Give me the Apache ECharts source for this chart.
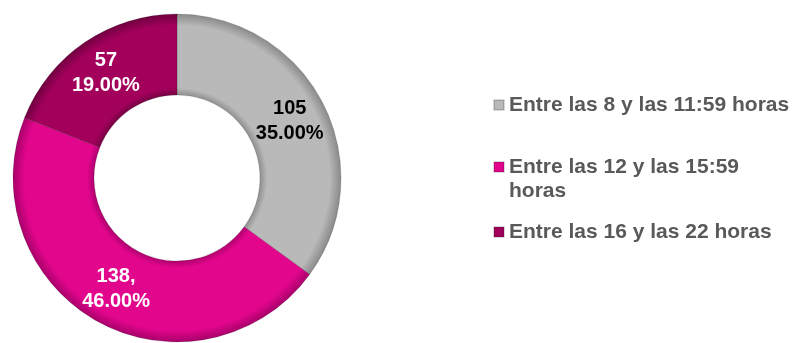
<!DOCTYPE html>
<html>
<head>
<meta charset="utf-8">
<script src="https://cdn.jsdelivr.net/npm/echarts@6/dist/echarts.min.js"></script>
<style>html,body{margin:0;padding:0;background:#fff}#c{width:798px;height:343px}</style>
</head>
<body>
<div id="c"></div>
<script>
var categories = ['Entre las 8 y las 11:59 horas', 'Entre las 12 y las 15:59 horas', 'Entre las 16 y las 22 horas'];
var values = [105, 138, 57];
var colors = ['#b9b9b9', '#e2068c', '#a2005b'];
var edgeColors = ['#8a8a8a', '#a8006a', '#700040'];
var labelColors = ['#000000', '#ffffff', '#ffffff'];
var labelSeparators = ['\n', ',\n', '\n'];

var chart = echarts.init(document.getElementById('c'));
var legendText = {
  color: '#595959', fontFamily: 'Liberation Sans, Arial, sans-serif',
  fontWeight: 'bold', fontSize: 21, lineHeight: 24
};
function mkLegend(idx, top, extra, formatter) {
  var ts = Object.assign({}, legendText, extra || {});
  var lg = {
    data: [{name: categories[idx], itemStyle: {color: colors[idx]}}],
    orient: 'vertical', left: 493, top: top,
    padding: 0, icon: 'rect', itemWidth: 10, itemHeight: 10, itemGap: 0,
    textStyle: ts
  };
  if (formatter) lg.formatter = formatter;
  return lg;
}
function grad(i) {
  return {
    type: 'radial', x: 177, y: 178, r: 164, global: true,
    colorStops: [
      {offset: 0.50, color: edgeColors[i]},
      {offset: 0.55, color: colors[i]},
      {offset: 0.93, color: colors[i]},
      {offset: 1.00, color: edgeColors[i]}
    ]
  };
}
chart.setOption({
  animation: false,
  legend: [
    mkLegend(0, 93),
    mkLegend(1, 131, {width: 285, overflow: 'break'}, function (n) { return '\n' + n; }),
    mkLegend(2, 220)
  ],
  series: [{
    type: 'pie',
    center: [177, 178],
    radius: [83, 164],
    startAngle: 90,
    clockwise: true,
    label: {
      position: 'inside',
      fontFamily: 'Liberation Sans, Arial, sans-serif',
      fontWeight: 'bold', fontSize: 20, lineHeight: 25,
      formatter: function (p) {
        return p.value + labelSeparators[p.dataIndex] + p.percent.toFixed(2) + '%';
      }
    },
    labelLine: {show: false},
    itemStyle: {borderColor: 'rgba(0,0,0,0.15)', borderWidth: 1},
    emphasis: {disabled: true},
    data: categories.map(function (n, i) {
      return {
        name: n, value: values[i],
        itemStyle: {color: grad(i)},
        label: {color: labelColors[i]}
      };
    })
  }]
});
</script>
</body>
</html>
